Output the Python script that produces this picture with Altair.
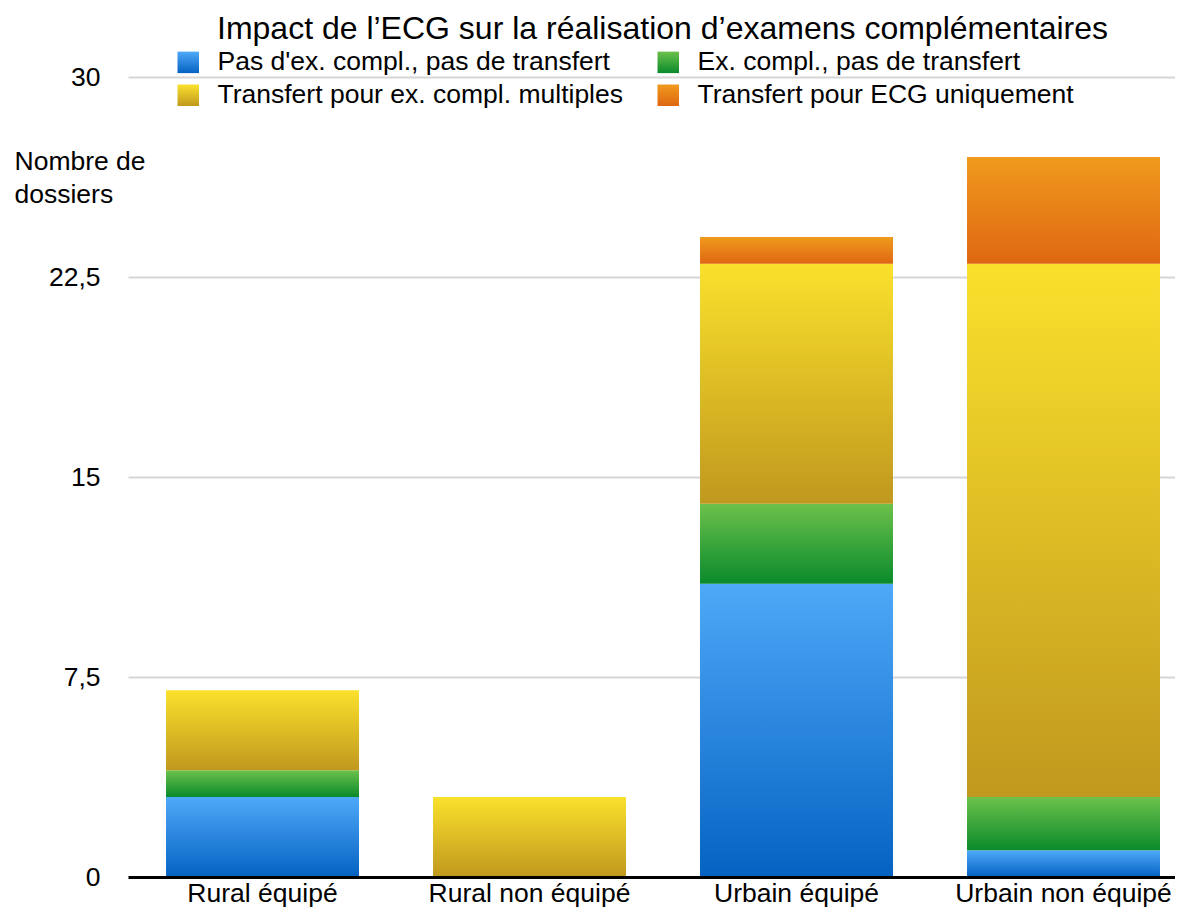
import altair as alt
import pandas as pd

categories = ["Rural équipé", "Rural non équipé", "Urbain équipé", "Urbain non équipé"]
series = [
    "Pas d'ex. compl., pas de transfert",
    "Ex. compl., pas de transfert",
    "Transfert pour ex. compl. multiples",
    "Transfert pour ECG uniquement",
]
pas_ex = [3, 0, 11, 1]
ex_compl = [1, 0, 3, 2]
transfert_multi = [3, 3, 9, 20]
transfert_ecg = [0, 0, 1, 4]
y_ticks = [0, 7.5, 15, 22.5, 30]

gradient_tops = ["#4ea9f8", "#6cc14b", "#fae12c", "#f09a1d"]
gradient_bottoms = ["#0562c2", "#0a8a2b", "#c0981e", "#df6712"]

rows = []
for k, (name, vals) in enumerate(zip(series, [pas_ex, ex_compl, transfert_multi, transfert_ecg])):
    for cat, v in zip(categories, vals):
        rows.append({"cat": cat, "series": name, "val": v, "k": k})
df = pd.DataFrame(rows)


def grad(top, bottom):
    return alt.ExprRef(
        expr=(
            "{gradient: 'linear', x1: 0, y1: 0, x2: 0, y2: 1, "
            f"stops: [{{offset: 0, color: '{top}'}}, {{offset: 1, color: '{bottom}'}}]}}"
        )
    )


FONT = "Liberation Sans"
FS = 26.5

chart = (
    alt.Chart(df)
    .mark_bar()
    .encode(
        x=alt.X(
            "cat:N",
            sort=categories,
            scale=alt.Scale(paddingInner=0.2772, paddingOuter=0.0993, align=0.717),
            axis=alt.Axis(
                title=None,
                labelAngle=0,
                labelFont=FONT,
                labelFontSize=FS,
                labelColor="black",
                labelPadding=3,
                ticks=False,
                domainColor="black",
                domainWidth=3,
                zindex=1,
                labelLimit=0,
            ),
        ),
        y=alt.Y(
            "val:Q",
            stack="zero",
            scale=alt.Scale(domain=[0, 30], nice=False),
            axis=alt.Axis(
                values=y_ticks,
                labelExpr="replace(format(datum.value, '.1~f'), '.', ',')",
                labelFont=FONT,
                labelFontSize=FS,
                labelColor="black",
                labelPadding=28,
                ticks=False,
                domain=False,
                gridColor="#d6d6d6",
                gridWidth=2,
                title=["Nombre de", "dossiers"],
                titleFont=FONT,
                titleFontSize=FS,
                titleFontWeight="normal",
                titleColor="black",
                titleAngle=0,
                titleAlign="left",
                titleBaseline="alphabetic",
                titleX=-114,
                titleY=92,
                titleLineHeight=33.5,
            ),
        ),
        color=alt.Color(
            "series:N",
            scale=alt.Scale(
                domain=series,
                range=[grad(t, b) for t, b in zip(gradient_tops, gradient_bottoms)],
            ),
            legend=alt.Legend(
                title=None,
                orient="none",
                direction="horizontal",
                legendX=47,
                legendY=-28,
                columns=2,
                columnPadding=32,
                rowPadding=6,
                symbolType="square",
                symbolSize=462,
                symbolStrokeWidth=0,
                labelFont=FONT,
                labelFontSize=FS,
                labelColor="black",
                labelOffset=16,
                labelLimit=0,
            ),
        ),
        order=alt.Order("k:Q", sort="ascending"),
    )
    .properties(
        width=1047,
        height=800,
        title=alt.TitleParams(
            text="Impact de l’ECG sur la réalisation d’examens complémentaires",
            font=FONT,
            fontSize=32,
            fontWeight="normal",
            color="black",
            anchor="middle",
            dx=11,
            offset=3,
        ),
        autosize=alt.AutoSizeParams(type="none"),
        padding={"left": 120, "top": 69, "right": 0, "bottom": 31},
    )
    .configure_view(stroke=None)
)

chart.save("out.html", embed_options={"renderer": "svg", "actions": False})
